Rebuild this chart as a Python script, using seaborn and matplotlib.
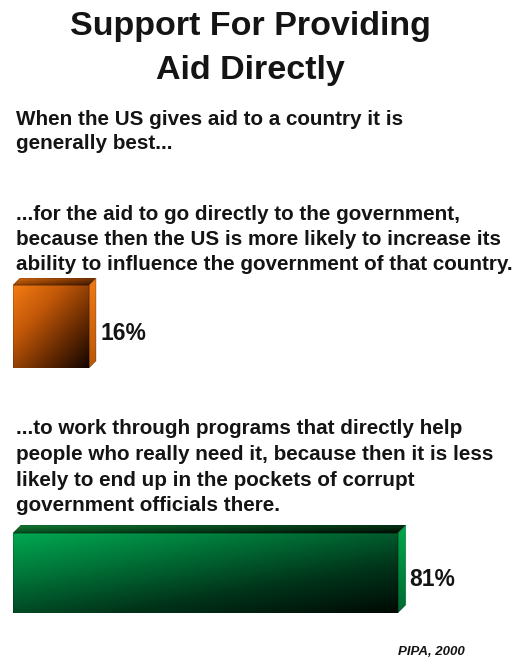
import numpy as np
import pandas as pd
import matplotlib
matplotlib.use("Agg")
import matplotlib.pyplot as plt
import seaborn as sns
from matplotlib.colors import LinearSegmentedColormap
from matplotlib.patches import Polygon

sns.set_theme(style="white")
plt.rcParams["font.family"] = ["Liberation Sans", "DejaVu Sans"]

# ---- data -------------------------------------------------------------
title_lines = ["Support For Providing", "Aid Directly"]
intro_lines = ["When the US gives aid to a country it is", "generally best..."]
options = ["Government", "Programs"]
option_lines = [
    ["...for the aid to go directly to the government,",
     "because then the US is more likely to increase its",
     "ability to influence the government of that country."],
    ["...to work through programs that directly help",
     "people who really need it, because then it is less",
     "likely to end up in the pockets of corrupt",
     "government officials there."],
]
support = [16, 81]
source = "PIPA, 2000"

# ---- canvas (pixel helpers) --------------------------------------------
W, H = 516, 658
fig = plt.figure(figsize=(W / 100, H / 100), dpi=100)
fig.patch.set_facecolor("white")


def fx(px):
    return px / W


def fy(py):
    return 1 - py / H


TXT = "#141414"
BODY_SIZE = 14.85

# title
for line, base in zip(title_lines, [35, 79]):
    fig.text(fx(250), fy(base), line, ha="center", va="baseline",
             fontsize=24.5, fontweight="bold", color=TXT)

# question text
for line, base in zip(intro_lines, [125, 149]):
    fig.text(fx(16), fy(base), line, ha="left", va="baseline",
             fontsize=BODY_SIZE, fontweight="bold", color=TXT)

option_baselines = [[220, 245, 270], [434, 460, 486, 511]]
for lines, bases in zip(option_lines, option_baselines):
    for line, base in zip(lines, bases):
        fig.text(fx(16), fy(base), line, ha="left", va="baseline",
                 fontsize=BODY_SIZE, fontweight="bold", color=TXT)

fig.text(fx(398), fy(655), source, ha="left", va="baseline",
         fontsize=9.5, fontweight="bold", style="italic", color=TXT)

# ---- 3-D style bars -----------------------------------------------------
front_cmaps = [
    LinearSegmentedColormap.from_list("of", ["#F47C14", "#C25808", "#6a2c02", "#120500"]),
    LinearSegmentedColormap.from_list("gf", ["#00A851", "#007036", "#00341a", "#000a04"]),
]
top_cmaps = [
    LinearSegmentedColormap.from_list("ot", ["#D86A0C", "#8a3c04", "#3a1600"]),
    LinearSegmentedColormap.from_list("gt", ["#137a34", "#05401a", "#000c04"]),
]
side_cmaps = [
    LinearSegmentedColormap.from_list("os", ["#F07A16", "#B85808"]),
    LinearSegmentedColormap.from_list("gs", ["#00A84C", "#006a30"]),
]

# front-face pixel rows for each bar, and the depth of the extrusion
bar_rows = [(285, 368), (533, 613)]
depth_px = [7, 8]
x_left_px, x_span_px = 13, 475

for i, (value, label) in enumerate(zip(support, options)):
    top_px, bot_px = bar_rows[i]
    d = depth_px[i]
    face_h = bot_px - top_px
    ax = fig.add_axes([fx(x_left_px), fy(bot_px), x_span_px / W, (face_h + d) / H])

    df = pd.DataFrame({"option": [label], "support": [value]})
    sns.barplot(data=df, x="support", y="option", orient="h", width=1.0,
                color="#888888", linewidth=0, ax=ax)

    dy = d / face_h                 # depth in y data units
    dx = d * 100 / x_span_px        # depth in x data units
    ax.set_xlim(0, 100)
    ax.set_ylim(0.5, -0.5 - dy)
    ax.axis("off")

    patch = ax.patches[0]
    x0, y0 = patch.get_x(), patch.get_y()
    x1, y1 = x0 + patch.get_width(), y0 + patch.get_height()

    # front face: diagonal gradient, bright top-left to dark bottom-right
    u, v = np.meshgrid(np.linspace(0, 1, 200), np.linspace(0, 1, 120))
    wu = 0.5 if i == 0 else 0.45
    im = ax.imshow(wu * u + (1 - wu) * v, cmap=front_cmaps[i], vmin=0, vmax=1,
                   extent=(x0, x1, y1, y0), aspect="auto", zorder=3,
                   interpolation="bilinear")
    im.set_clip_path(patch)

    # top face
    top = Polygon([(x0, y0), (x1, y0), (x1 + dx, y0 - dy), (x0 + dx, y0 - dy)],
                  closed=True, facecolor="none", edgecolor="none", zorder=2)
    ax.add_patch(top)
    tu, tv = np.meshgrid(np.linspace(0, 1, 200), np.linspace(0, 1, 20))
    im_t = ax.imshow(0.6 * tu + 0.4 * tv, cmap=top_cmaps[i], vmin=0, vmax=1,
                     extent=(x0, x1 + dx, y0, y0 - dy), aspect="auto", zorder=3,
                     interpolation="bilinear")
    im_t.set_clip_path(top)

    # right side face
    side = Polygon([(x1, y0), (x1 + dx, y0 - dy), (x1 + dx, y1 - dy), (x1, y1)],
                   closed=True, facecolor="none", edgecolor="none", zorder=2)
    ax.add_patch(side)
    su, sv = np.meshgrid(np.linspace(0, 1, 10), np.linspace(0, 1, 100))
    im_s = ax.imshow(sv, cmap=side_cmaps[i], vmin=0, vmax=1,
                     extent=(x1, x1 + dx, y1, y0 - dy), aspect="auto", zorder=3,
                     interpolation="bilinear")
    im_s.set_clip_path(side)

    # thin edge lines
    for poly in (top, side):
        ax.add_patch(Polygon(poly.get_xy(), closed=True, fill=False,
                             edgecolor="#00000055", linewidth=0.5, zorder=4))
    ax.add_patch(Polygon([(x0, y0), (x1, y0), (x1, y1), (x0, y1)], closed=True,
                         fill=False, edgecolor="#00000040", linewidth=0.5, zorder=4))

    ax.annotate(f"{value}%", xy=(x1, 0), xytext=(8.5, -9.5),
                textcoords="offset points", ha="left", va="baseline",
                fontsize=16.5, fontweight="bold", color=TXT)

fig.savefig("out.png", dpi=100, facecolor="white")
